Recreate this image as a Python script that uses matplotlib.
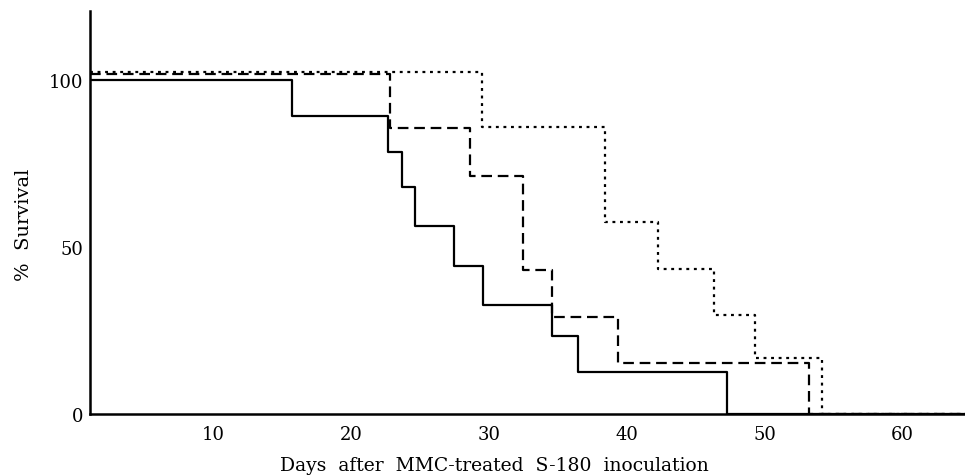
import matplotlib
matplotlib.use("Agg")
import matplotlib.pyplot as plt

# Kaplan-Meier style survival curves
solid_days = [15.7, 22.7, 23.7, 24.6, 27.5, 29.6, 34.6, 36.5, 47.3]
solid_surv = [100.0, 89.0, 78.4, 67.8, 56.1, 44.3, 32.7, 23.2, 12.6, 0.0]

dashed_days = [22.8, 28.6, 32.5, 34.6, 39.4, 53.2]
dashed_surv = [101.6, 85.4, 71.2, 43.1, 28.9, 15.2, 0.0]

dotted_days = [29.5, 38.4, 42.3, 46.3, 49.3, 54.2]
dotted_surv = [102.3, 85.7, 57.5, 43.3, 29.6, 16.7, 0.0]

x_ticks = [10, 20, 30, 40, 50, 60]
y_ticks = [0, 50, 100]

X_MIN, X_MAX = 1.05, 64.55
Y_MAX = 120.5

plt.rcParams["font.family"] = ["DejaVu Serif"]

fig = plt.figure(figsize=(9.65, 4.77), dpi=100)
ax = fig.add_axes([90 / 965, 62 / 477, 875 / 965, 403 / 477])


def step_xy(days, surv):
    xs = [X_MIN] + list(days) + [X_MAX]
    ys = list(surv) + [surv[-1]]
    return xs, ys


xs, ys = step_xy(dotted_days, dotted_surv)
ax.step(xs, ys, where="post", color="black", lw=1.6, linestyle=(0, (1.3, 2.1)))
xs, ys = step_xy(dashed_days, dashed_surv)
ax.step(xs, ys, where="post", color="black", lw=1.6, linestyle=(0, (4.8, 2.6)))
xs, ys = step_xy(solid_days, solid_surv)
ax.step(xs, ys, where="post", color="black", lw=1.6, linestyle="-")

ax.set_xlim(X_MIN, X_MAX)
ax.set_ylim(0, Y_MAX)

for side in ["top", "right"]:
    ax.spines[side].set_visible(False)
for side in ["left", "bottom"]:
    ax.spines[side].set_linewidth(1.8)

ax.set_xticks(x_ticks)
ax.set_yticks(y_ticks)
ax.tick_params(axis="both", length=0, labelsize=13)
ax.tick_params(axis="x", pad=8)
ax.tick_params(axis="y", pad=5)

ax.set_xlabel("Days  after  MMC-treated  S-180  inoculation", fontsize=13.5)
ax.xaxis.set_label_coords(0.462, -0.103)
ax.set_ylabel("%  Survival", fontsize=14)
ax.yaxis.set_label_coords(-0.065, 0.471)

fig.savefig("out.png", dpi=100)
